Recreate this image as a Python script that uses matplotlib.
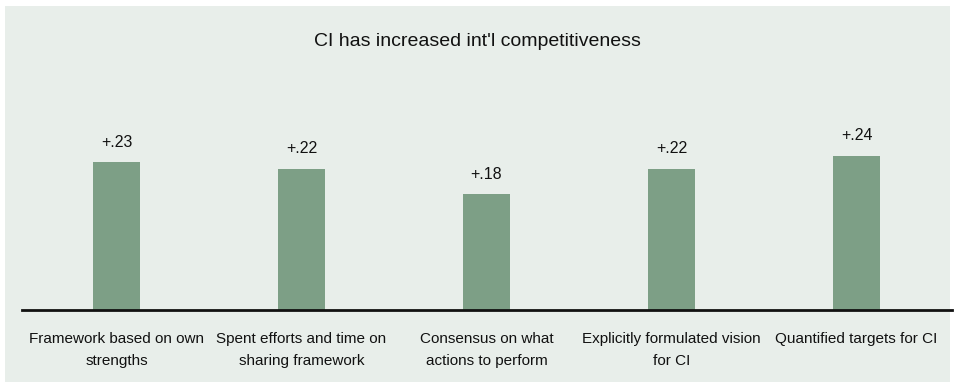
import matplotlib
matplotlib.use('Agg')
from matplotlib import pyplot as plt
from matplotlib.patches import Rectangle

categories = ['Framework based on own\nstrengths',
              'Spent efforts and time on\nsharing framework',
              'Consensus on what\nactions to perform',
              'Explicitly formulated vision\nfor CI',
              'Quantified targets for CI']
values = [0.23, 0.22, 0.18, 0.22, 0.24]
value_labels = ['+.23', '+.22', '+.18', '+.22', '+.24']
title = "CI has increased int'l competitiveness"

W, H = 955, 385
bg = '#e8eeea'
bar_color = '#7d9f86'

plt.rcParams['font.family'] = ['Liberation Sans Narrow', 'Liberation Sans', 'DejaVu Sans']

fig = plt.figure(figsize=(W / 100, H / 100), dpi=100)
fig.patch.set_facecolor('white')

# light panel behind everything
fig.patches.append(Rectangle((5 / W, 3 / H), 945 / W, 376 / H, transform=fig.transFigure,
                             facecolor=bg, edgecolor='none', zorder=-5))

# main axes: baseline at y=310px, from x=22 to 952 px
ax = fig.add_axes([22 / W, (H - 310) / H, 930 / W, 304 / H])
ax.set_zorder(1)
ax.set_facecolor('none')
x = list(range(len(values)))
ax.bar(x, values, width=0.254, color=bar_color, zorder=2)
ax.set_xlim(-0.511, 4.516)
ax.set_ylim(0, 0.473)

for xi, v, lab in zip(x, values, value_labels):
    ax.annotate(lab, xy=(xi, v), xytext=(0, 14.5), textcoords='offset points',
                ha='center', va='center', fontsize=11.5, color='#111111')

for s in ['top', 'right', 'left']:
    ax.spines[s].set_visible(False)
ax.spines['bottom'].set_linewidth(2)
ax.spines['bottom'].set_color('#111111')
ax.set_yticks([])
ax.set_xticks(x)
ax.set_xticklabels(categories, fontsize=11, linespacing=1.75, color='#111111')
ax.tick_params(axis='x', length=0, pad=16)

fig.text(0.5, (H - 42) / H, title, ha='center', va='center', fontsize=14, color='#111111',
         zorder=3)

fig.savefig('out.png', dpi=100)
